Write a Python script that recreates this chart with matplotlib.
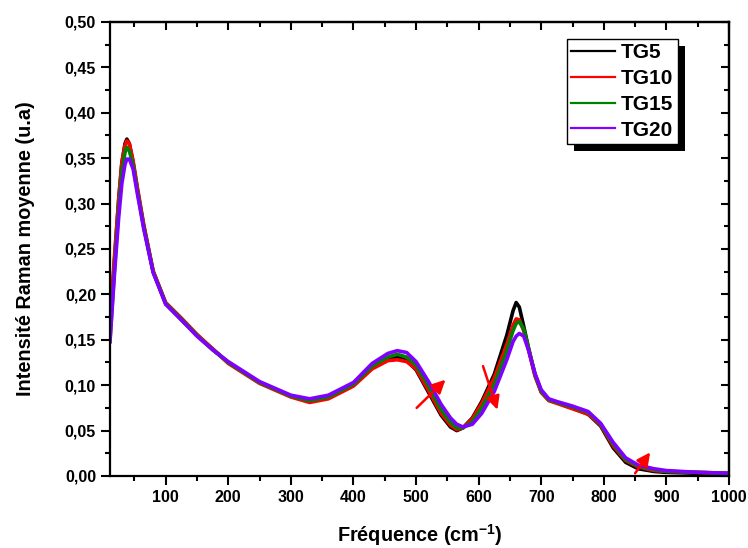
import matplotlib
matplotlib.use("Agg")
import matplotlib.pyplot as plt
from matplotlib.ticker import MultipleLocator, FuncFormatter
from matplotlib.patches import Rectangle

plt.rcParams['font.family'] = ['Liberation Sans', 'DejaVu Sans']
plt.rcParams['font.weight'] = 'bold'
plt.rcParams['mathtext.fontset'] = 'custom'
plt.rcParams['mathtext.rm'] = 'Liberation Sans:bold'
plt.rcParams['mathtext.bf'] = 'Liberation Sans:bold'

# ---- data ----
freq = [11, 18, 25, 30, 35, 38, 42, 48, 55, 65,
        80, 100, 125, 150, 175, 200, 250, 300, 330, 360,
        400, 430, 455, 470, 485, 500, 520, 540, 555, 565,
        575, 590, 605, 625, 645, 655, 660, 665, 672, 680,
        690, 700, 712, 725, 750, 775, 795, 815, 835, 855,
        880, 900, 950, 1000]

tg5 = [0.160, 0.235, 0.305, 0.345, 0.366, 0.371, 0.366, 0.345, 0.315, 0.275,
       0.225, 0.190, 0.172, 0.155, 0.140, 0.125, 0.103, 0.088, 0.082, 0.086,
       0.100, 0.120, 0.129, 0.131, 0.127, 0.117, 0.092, 0.067, 0.054, 0.050,
       0.053, 0.064, 0.082, 0.112, 0.155, 0.182, 0.191, 0.186, 0.165, 0.140,
       0.112, 0.093, 0.084, 0.081, 0.075, 0.068, 0.055, 0.031, 0.015, 0.008,
       0.005, 0.004, 0.003, 0.002]

tg10 = [0.169, 0.240, 0.305, 0.345, 0.364, 0.369, 0.366, 0.347, 0.317, 0.277,
        0.226, 0.191, 0.174, 0.156, 0.140, 0.124, 0.102, 0.087, 0.081, 0.085,
        0.099, 0.118, 0.127, 0.128, 0.126, 0.118, 0.094, 0.069, 0.056, 0.051,
        0.053, 0.063, 0.080, 0.108, 0.145, 0.166, 0.173, 0.172, 0.160, 0.138,
        0.110, 0.092, 0.083, 0.080, 0.074, 0.068, 0.056, 0.033, 0.017, 0.010,
        0.006, 0.005, 0.004, 0.003]

tg15 = [0.148, 0.225, 0.295, 0.335, 0.356, 0.362, 0.358, 0.342, 0.313, 0.274,
        0.225, 0.190, 0.173, 0.155, 0.139, 0.125, 0.103, 0.088, 0.083, 0.087,
        0.101, 0.121, 0.131, 0.134, 0.131, 0.122, 0.099, 0.073, 0.059, 0.053,
        0.053, 0.060, 0.075, 0.101, 0.138, 0.160, 0.168, 0.170, 0.162, 0.140,
        0.112, 0.093, 0.084, 0.081, 0.076, 0.070, 0.057, 0.035, 0.018, 0.011,
        0.007, 0.005, 0.004, 0.003]

tg20 = [0.148, 0.220, 0.285, 0.322, 0.343, 0.349, 0.349, 0.338, 0.310, 0.272,
        0.224, 0.189, 0.172, 0.154, 0.139, 0.126, 0.104, 0.089, 0.085, 0.089,
        0.103, 0.124, 0.135, 0.138, 0.136, 0.126, 0.104, 0.079, 0.064, 0.057,
        0.054, 0.057, 0.069, 0.093, 0.128, 0.148, 0.154, 0.157, 0.154, 0.138,
        0.113, 0.095, 0.085, 0.082, 0.077, 0.071, 0.058, 0.037, 0.020, 0.012,
        0.008, 0.006, 0.004, 0.003]

labels = ['TG5', 'TG10', 'TG15', 'TG20']
colors = ['#000000', '#ff0000', '#008000', '#8000ff']

# red trend arrows (start, end) in data units
arrow_starts = [(501, 0.075), (607, 0.121), (850, 0.003)]
arrow_ends = [(547, 0.106), (630, 0.073), (874, 0.026)]

# ---- figure ----
fig = plt.figure(figsize=(7.48, 5.48), dpi=100)
ax = fig.add_axes([0.147, 0.1314, 0.8276, 0.8285])

for ys, lab, c in zip([tg5, tg10, tg15, tg20], labels, colors):
    ax.plot(freq, ys, color=c, lw=2.6, label=lab, solid_joinstyle='round')

for s, e in zip(arrow_starts, arrow_ends):
    ax.annotate('', xy=e, xytext=s,
                arrowprops=dict(arrowstyle='-|>', color='red', lw=1.8,
                                mutation_scale=20, shrinkA=0, shrinkB=0))

ax.set_xlim(11, 1000)
ax.set_ylim(0, 0.5)
ax.xaxis.set_major_locator(MultipleLocator(100))
ax.xaxis.set_minor_locator(MultipleLocator(50))
ax.yaxis.set_major_locator(MultipleLocator(0.05))
ax.yaxis.set_minor_locator(MultipleLocator(0.025))
ax.yaxis.set_major_formatter(FuncFormatter(lambda v, p: f"{v:.2f}".replace('.', ',')))
ax.xaxis.set_major_formatter(FuncFormatter(lambda v, p: f"{int(round(v))}"))

for sp in ax.spines.values():
    sp.set_linewidth(1.6)

ax.tick_params(axis='both', which='major', direction='out', length=6.5, width=1.5,
               labelsize=11.5, pad=3.5)
ax.tick_params(axis='both', which='minor', direction='out', length=3.5, width=1.5)

# top and right inward ticks via secondary axes
sx = ax.secondary_xaxis('top')
sy = ax.secondary_yaxis('right')
sx.xaxis.set_major_locator(MultipleLocator(100))
sx.xaxis.set_minor_locator(MultipleLocator(50))
sy.yaxis.set_major_locator(MultipleLocator(0.05))
sy.yaxis.set_minor_locator(MultipleLocator(0.025))
for ax2 in (sx, sy):
    ax2.tick_params(which='major', direction='in', length=6, width=1.5)
    ax2.tick_params(which='minor', direction='in', length=3.5, width=1.5)
    for sp in ax2.spines.values():
        sp.set_linewidth(1.6)
sx.tick_params(labeltop=False)
sy.tick_params(labelright=False)

ax.set_xlabel(r'Fréquence (cm$^{-1}$)', fontsize=14.3, fontweight='bold')
ax.set_ylabel('Intensité Raman moyenne (u.a)', fontsize=14.3, fontweight='bold')
ax.xaxis.set_label_coords(0.5, -0.13)
ax.xaxis.label.set_va('center')
ax.yaxis.set_label_coords(-0.137, 0.5)
ax.yaxis.label.set_va('center')

leg = ax.legend(loc='upper left', bbox_to_anchor=(0.738, 0.9626), borderaxespad=0,
                prop={'weight': 'bold', 'size': 15}, frameon=True, fancybox=False,
                edgecolor='black', framealpha=1, handlelength=2.1, handletextpad=0.3,
                borderpad=0.2, labelspacing=0.33)
leg.get_frame().set_linewidth(1.0)
leg.set_zorder(10)
for h in leg.get_lines():
    h.set_linewidth(1.6)

fig.canvas.draw()
bb = leg.get_window_extent()
off = 7
shadow = Rectangle((bb.x0 + off, bb.y0 - off), bb.width, bb.height,
                   transform=None, facecolor='black', edgecolor='none', zorder=9)
ax.add_artist(shadow)

fig.savefig('out.png', dpi=100)
